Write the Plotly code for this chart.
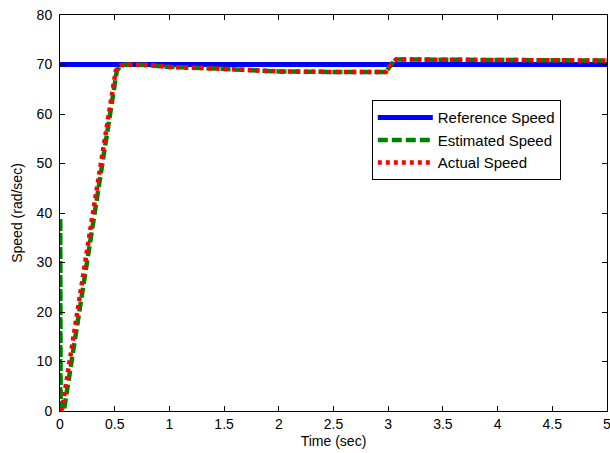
import plotly.graph_objects as go

# Reference speed
ref_time = [0, 5]
ref_speed = [70, 70]

# Estimated speed
est_time = [0, 0.002, 0.006, 0.035, 0.29, 0.52, 0.56, 0.6, 0.8, 1.0, 1.3, 1.5, 1.8, 2.0, 2.5, 2.98, 3.02, 3.07, 3.2, 4.0, 5.0]
est_speed = [0, 39, 0, 0, 36, 68.8, 69.8, 70, 69.9, 69.5, 69.3, 69.1, 68.8, 68.6, 68.5, 68.5, 69.8, 71, 71, 70.9, 70.8]

# Actual speed
act_time = [0, 0.02, 0.29, 0.51, 0.55, 0.6, 0.8, 1.0, 1.3, 1.5, 1.8, 2.0, 2.5, 2.98, 3.02, 3.07, 3.2, 4.0, 5.0]
act_speed = [0, 0.5, 38.5, 68.8, 69.8, 70, 69.9, 69.5, 69.3, 69.1, 68.8, 68.6, 68.5, 68.5, 69.8, 71, 71, 70.9, 70.8]

x_ticks = [0, 0.5, 1, 1.5, 2, 2.5, 3, 3.5, 4, 4.5, 5]
y_ticks = [0, 10, 20, 30, 40, 50, 60, 70, 80]

fig = go.Figure()
fig.add_trace(go.Scatter(x=ref_time, y=ref_speed, mode="lines", name="Reference Speed",
                         line=dict(color="#0000FF", width=5)))
fig.add_trace(go.Scatter(x=est_time, y=est_speed, mode="lines", name="Estimated Speed",
                         line=dict(color="#008000", width=4.5, dash="10px,4px")))
fig.add_trace(go.Scatter(x=act_time, y=act_speed, mode="lines", name="Actual Speed",
                         line=dict(color="#FF0000", width=4.5, dash="4px,4px")))

axis_common = dict(showline=True, linecolor="black", linewidth=1, mirror="ticks",
                   ticks="inside", ticklen=5, tickcolor="black", showgrid=False,
                   zeroline=False, automargin=False,
                   tickfont=dict(family="Liberation Sans, Arial", size=14, color="black"))

fig.update_layout(
    width=616, height=453,
    margin=dict(l=60, r=9, t=15, b=42),
    paper_bgcolor="white", plot_bgcolor="white",
    font=dict(family="Liberation Sans, Arial", color="black"),
    xaxis=dict(range=[0, 5], tickvals=x_ticks, ticktext=[str(v) for v in x_ticks],
               title=dict(text="Time (sec)", font=dict(size=14), standoff=5), **axis_common),
    yaxis=dict(range=[0, 80], tickvals=y_ticks, ticklabelstandoff=4,
               title=dict(text="Speed (rad/sec)", font=dict(size=14), standoff=10), **axis_common),
    legend=dict(x=0.570, y=0.785, xanchor="left", yanchor="top",
                bordercolor="black", borderwidth=1, bgcolor="white",
                font=dict(size=15), tracegroupgap=0, itemwidth=55),
    showlegend=True,
)

fig.write_html("out.html", config={"displayModeBar": False},
               post_script="document.body.style.margin='0px';document.body.style.overflow='hidden';")
